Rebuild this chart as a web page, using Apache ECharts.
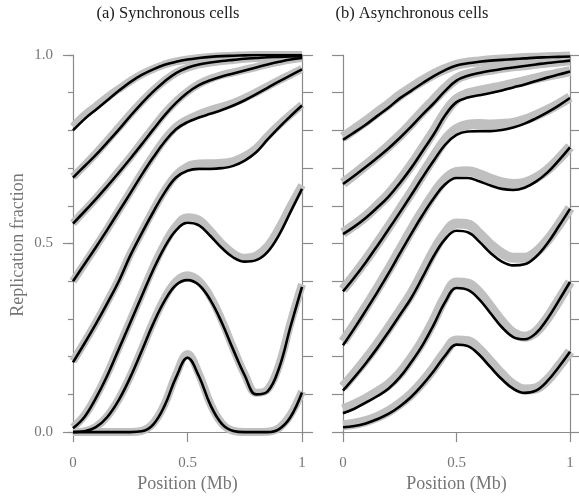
<!DOCTYPE html>
<html>
<head>
<meta charset="utf-8">
<script src="https://cdn.jsdelivr.net/npm/echarts@6/dist/echarts.min.js"></script>
<style>
  html, body { margin: 0; padding: 0; background: #fff; }
  #chart { width: 579px; height: 498px; }
</style>
</head>
<body>
<div id="chart"></div>
<script>
// positions along the 1 Mb segment
const position = [0, 0.05, 0.1, 0.15, 0.2, 0.25, 0.3, 0.35, 0.4, 0.45, 0.5,
  0.55, 0.6, 0.65, 0.7, 0.75, 0.8, 0.85, 0.9, 0.95, 1]

// (a) synchronous cells: model fits (black)
const syncFit1 = [0.80, 0.83, 0.855, 0.88, 0.905, 0.928, 0.947, 0.962, 0.974, 0.982, 0.988, 0.992, 0.995, 0.997, 0.998, 0.999, 1.0, 1.0, 1.0, 1.0, 1.0]
const syncFit2 = [0.675, 0.705, 0.735, 0.768, 0.802, 0.838, 0.872, 0.903, 0.93, 0.952, 0.966, 0.975, 0.98, 0.984, 0.987, 0.99, 0.992, 0.994, 0.995, 0.996, 0.997]
const syncFit3 = [0.553, 0.585, 0.618, 0.652, 0.688, 0.725, 0.763, 0.802, 0.84, 0.873, 0.9, 0.92, 0.933, 0.943, 0.951, 0.959, 0.967, 0.975, 0.982, 0.988, 0.992]
const syncFit4 = [0.40, 0.445, 0.49, 0.537, 0.585, 0.633, 0.682, 0.728, 0.77, 0.803, 0.822, 0.834, 0.844, 0.854, 0.866, 0.88, 0.896, 0.913, 0.93, 0.946, 0.962]
const syncFit5 = [0.185, 0.235, 0.287, 0.342, 0.4, 0.468, 0.527, 0.583, 0.635, 0.675, 0.693, 0.698, 0.698, 0.7, 0.706, 0.72, 0.742, 0.776, 0.808, 0.838, 0.866]
const syncFit6 = [0.01, 0.04, 0.09, 0.15, 0.22, 0.29, 0.36, 0.43, 0.49, 0.535, 0.555, 0.548, 0.52, 0.488, 0.463, 0.452, 0.456, 0.478, 0.523, 0.584, 0.645]
const syncFit7 = [0, 0.002, 0.013, 0.04, 0.085, 0.145, 0.215, 0.287, 0.348, 0.39, 0.403, 0.39, 0.35, 0.29, 0.218, 0.15, 0.1, 0.108, 0.17, 0.28, 0.385]
const syncFit8 = [0, 0, 0, 0, 0, 0, 0.002, 0.02, 0.07, 0.145, 0.197, 0.148, 0.072, 0.022, 0.003, 0, 0, 0, 0.008, 0.04, 0.105]

// (a) synchronous cells: measured data (grey)
const syncData1 = [0.81, 0.84, 0.864, 0.888, 0.91, 0.931, 0.949, 0.963, 0.975, 0.983, 0.988, 0.992, 0.995, 0.997, 0.998, 0.999, 1.0, 1.0, 1.0, 1.0, 1.0]
const syncData2 = [0.677, 0.707, 0.739, 0.773, 0.808, 0.843, 0.876, 0.906, 0.932, 0.953, 0.966, 0.975, 0.98, 0.984, 0.987, 0.99, 0.992, 0.994, 0.995, 0.996, 0.997]
const syncData3 = [0.554, 0.587, 0.62, 0.655, 0.692, 0.729, 0.768, 0.807, 0.845, 0.877, 0.903, 0.923, 0.937, 0.947, 0.954, 0.961, 0.968, 0.976, 0.982, 0.988, 0.992]
const syncData4 = [0.4, 0.446, 0.492, 0.539, 0.588, 0.637, 0.686, 0.733, 0.776, 0.81, 0.829, 0.843, 0.854, 0.863, 0.873, 0.886, 0.901, 0.917, 0.933, 0.948, 0.963]
const syncData5 = [0.188, 0.238, 0.29, 0.346, 0.405, 0.472, 0.531, 0.588, 0.64, 0.682, 0.705, 0.712, 0.713, 0.714, 0.719, 0.732, 0.753, 0.785, 0.815, 0.842, 0.868]
const syncData6 = [0.012, 0.044, 0.094, 0.155, 0.225, 0.295, 0.366, 0.437, 0.499, 0.547, 0.57, 0.563, 0.534, 0.5, 0.474, 0.462, 0.468, 0.494, 0.542, 0.6, 0.655]
const syncData7 = [0, 0.002, 0.014, 0.042, 0.088, 0.148, 0.219, 0.292, 0.355, 0.4, 0.416, 0.401, 0.359, 0.296, 0.222, 0.153, 0.104, 0.113, 0.178, 0.29, 0.392]
const syncData8 = [0, 0, 0, 0, 0, 0, 0.003, 0.023, 0.074, 0.152, 0.207, 0.154, 0.075, 0.023, 0.003, 0, 0, 0.001, 0.011, 0.046, 0.108]

// (b) asynchronous cells: model fits (black)
const asyncFit1 = [0.775, 0.795, 0.815, 0.838, 0.86, 0.885, 0.905, 0.925, 0.944, 0.96, 0.972, 0.978, 0.982, 0.985, 0.987, 0.989, 0.991, 0.993, 0.994, 0.995, 0.996]
const asyncFit2 = [0.658, 0.68, 0.703, 0.727, 0.752, 0.78, 0.81, 0.842, 0.872, 0.905, 0.932, 0.945, 0.952, 0.958, 0.963, 0.967, 0.971, 0.975, 0.979, 0.982, 0.985]
const asyncFit3 = [0.525, 0.545, 0.568, 0.595, 0.624, 0.66, 0.7, 0.745, 0.79, 0.84, 0.875, 0.887, 0.893, 0.899, 0.906, 0.914, 0.922, 0.931, 0.94, 0.948, 0.956]
const asyncFit4 = [0.373, 0.41, 0.45, 0.493, 0.537, 0.582, 0.628, 0.675, 0.72, 0.762, 0.788, 0.797, 0.798, 0.798, 0.801, 0.808, 0.818, 0.832, 0.848, 0.866, 0.886]
const asyncFit5 = [0.23, 0.275, 0.322, 0.37, 0.42, 0.473, 0.525, 0.575, 0.62, 0.657, 0.674, 0.674, 0.665, 0.654, 0.645, 0.642, 0.648, 0.664, 0.688, 0.72, 0.755]
const asyncFit6 = [0.11, 0.145, 0.182, 0.222, 0.265, 0.31, 0.355, 0.41, 0.467, 0.512, 0.534, 0.53, 0.505, 0.475, 0.452, 0.442, 0.445, 0.465, 0.5, 0.545, 0.592]
const asyncFit7 = [0.05, 0.062, 0.078, 0.095, 0.115, 0.145, 0.185, 0.23, 0.285, 0.345, 0.382, 0.377, 0.352, 0.315, 0.278, 0.252, 0.246, 0.262, 0.3, 0.348, 0.398]
const asyncFit8 = [0.013, 0.016, 0.023, 0.034, 0.048, 0.068, 0.093, 0.125, 0.162, 0.203, 0.232, 0.228, 0.205, 0.172, 0.14, 0.115, 0.104, 0.11, 0.135, 0.172, 0.213]

// (b) asynchronous cells: measured data (grey)
const asyncData1 = [0.782, 0.803, 0.824, 0.847, 0.869, 0.893, 0.913, 0.932, 0.949, 0.963, 0.974, 0.98, 0.983, 0.986, 0.988, 0.99, 0.992, 0.993, 0.994, 0.995, 0.996]
const asyncData2 = [0.66, 0.683, 0.707, 0.732, 0.758, 0.786, 0.817, 0.85, 0.881, 0.912, 0.937, 0.949, 0.956, 0.961, 0.966, 0.97, 0.973, 0.977, 0.98, 0.983, 0.986]
const asyncData3 = [0.528, 0.549, 0.572, 0.6, 0.63, 0.666, 0.707, 0.752, 0.798, 0.847, 0.883, 0.898, 0.905, 0.911, 0.917, 0.924, 0.931, 0.938, 0.945, 0.951, 0.957]
const asyncData4 = [0.378, 0.416, 0.456, 0.499, 0.543, 0.589, 0.635, 0.683, 0.73, 0.775, 0.804, 0.815, 0.817, 0.816, 0.817, 0.82, 0.828, 0.84, 0.854, 0.87, 0.888]
const asyncData5 = [0.24, 0.284, 0.331, 0.379, 0.43, 0.482, 0.535, 0.585, 0.632, 0.67, 0.69, 0.692, 0.684, 0.672, 0.662, 0.658, 0.661, 0.674, 0.695, 0.724, 0.757]
const asyncData6 = [0.12, 0.155, 0.192, 0.232, 0.275, 0.32, 0.366, 0.422, 0.48, 0.527, 0.553, 0.551, 0.527, 0.497, 0.474, 0.462, 0.462, 0.477, 0.508, 0.549, 0.594]
const asyncData7 = [0.06, 0.073, 0.088, 0.106, 0.126, 0.155, 0.195, 0.241, 0.297, 0.358, 0.397, 0.394, 0.37, 0.332, 0.293, 0.263, 0.253, 0.266, 0.302, 0.349, 0.398]
const asyncData8 = [0.018, 0.022, 0.029, 0.04, 0.055, 0.075, 0.1, 0.132, 0.17, 0.212, 0.243, 0.241, 0.219, 0.186, 0.153, 0.126, 0.113, 0.116, 0.138, 0.174, 0.214]

const yTicks = [0, 0.1, 0.2, 0.3, 0.4, 0.5, 0.6, 0.7, 0.8, 0.9, 1]
const yLabels = [0, 0.5, 1]
const panelTitles = ['(a) Synchronous cells', '(b) Asynchronous cells']

const syncFits = [syncFit1, syncFit2, syncFit3, syncFit4, syncFit5, syncFit6, syncFit7, syncFit8]
const syncData = [syncData1, syncData2, syncData3, syncData4, syncData5, syncData6, syncData7, syncData8]
const asyncFits = [asyncFit1, asyncFit2, asyncFit3, asyncFit4, asyncFit5, asyncFit6, asyncFit7, asyncFit8]
const asyncData = [asyncData1, asyncData2, asyncData3, asyncData4, asyncData5, asyncData6, asyncData7, asyncData8]

const FONT = 'Liberation Serif'
const AXIS_GREY = '#8a8a8a'
const TEXT_GREY = '#767676'
const Y_MIN = -0.008

const pairs = arr => position.map((x, i) => [x, arr[i]])

function xAxis(gridIndex) {
  return {
    gridIndex,
    type: 'value',
    min: 0,
    max: 1,
    interval: 0.5,
    name: 'Position (Mb)',
    nameLocation: 'middle',
    nameGap: 39,
    nameTextStyle: { fontFamily: FONT, fontSize: 18, color: TEXT_GREY },
    axisLine: { lineStyle: { color: AXIS_GREY, width: 1.2 } },
    axisTick: { length: 10, lineStyle: { color: AXIS_GREY, width: 1.2 } },
    axisLabel: {
      margin: 20,
      fontFamily: FONT,
      fontSize: 15,
      color: TEXT_GREY,
      formatter: v => String(v)
    },
    splitLine: { show: false }
  }
}

function yAxis(gridIndex, position, opts) {
  return Object.assign({
    gridIndex,
    type: 'value',
    position,
    min: Y_MIN,
    max: 1,
    axisLine: { show: true, onZero: false, lineStyle: { color: AXIS_GREY, width: 1.2 } },
    axisTick: { length: 11, customValues: yTicks, lineStyle: { color: AXIS_GREY, width: 1.2 } },
    axisLabel: { show: false },
    splitLine: { show: false }
  }, opts)
}

function lines(fits, data, axisIndex, greyWidth) {
  const out = []
  data.forEach(d => {
    out.push({
      type: 'line',
      xAxisIndex: axisIndex.x,
      yAxisIndex: axisIndex.y,
      data: pairs(d),
      smooth: 0.4,
      showSymbol: false,
      silent: true,
      z: 1,
      lineStyle: { color: '#c0c0c0', width: greyWidth }
    })
  })
  fits.forEach(f => {
    out.push({
      type: 'line',
      xAxisIndex: axisIndex.x,
      yAxisIndex: axisIndex.y,
      data: pairs(f),
      smooth: 0.4,
      showSymbol: false,
      silent: true,
      z: 3,
      lineStyle: { color: '#000', width: 2.6 }
    })
  })
  return out
}

const chart = echarts.init(document.getElementById('chart'), null, { renderer: 'canvas' })
chart.setOption({
  animation: false,
  backgroundColor: '#fff',
  graphic: [
    { type: 'text', x: 168, y: 14, style: { text: panelTitles[0], font: '16.5px "Liberation Serif"', fill: '#1a1a1a', align: 'center', verticalAlign: 'middle' } },
    { type: 'text', x: 412, y: 14, style: { text: panelTitles[1], font: '16.5px "Liberation Serif"', fill: '#1a1a1a', align: 'center', verticalAlign: 'middle' } }
  ],
  grid: [
    { left: 73, top: 55, width: 229, height: 383 },
    { left: 343, top: 55, width: 227, height: 383 }
  ],
  xAxis: [xAxis(0), xAxis(1)],
  yAxis: [
    // panel (a) left: labelled axis with long ticks at 0, 0.5, 1
    yAxis(0, 'left', {
      name: 'Replication fraction',
      nameLocation: 'middle',
      nameGap: 46,
      nameTextStyle: { fontFamily: FONT, fontSize: 18, color: TEXT_GREY },
      axisTick: { length: 10, customValues: yLabels, lineStyle: { color: AXIS_GREY, width: 1.2 } },
      axisLabel: {
        show: true,
        customValues: yLabels,
        margin: 20,
        fontFamily: FONT,
        fontSize: 15,
        color: TEXT_GREY,
        formatter: v => v.toFixed(1)
      }
    }),
    // panel (a) left: short minor ticks
    yAxis(0, 'left', {
      axisLine: { show: false },
      axisTick: { length: 5, customValues: yTicks, lineStyle: { color: AXIS_GREY, width: 1.2 } }
    }),
    yAxis(0, 'right'),
    yAxis(1, 'left'),
    yAxis(1, 'right')
  ],
  series: [].concat(
    lines(syncFits, syncData, { x: 0, y: 0 }, 8),
    lines(asyncFits, asyncData, { x: 1, y: 3 }, 10)
  )
})
</script>
</body>
</html>
